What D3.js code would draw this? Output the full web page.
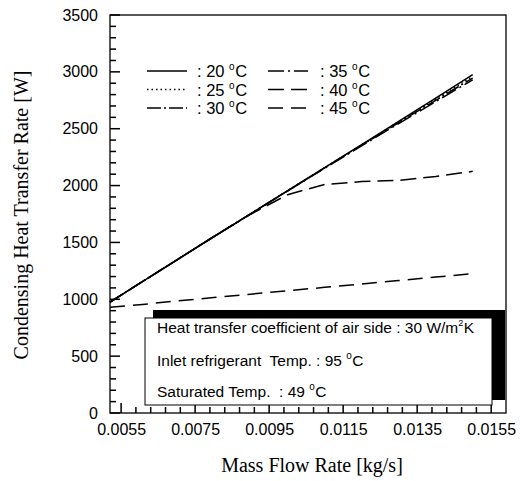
<!DOCTYPE html>
<html><head><meta charset="utf-8">
<script src="https://cdn.jsdelivr.net/npm/d3@7"></script>
<style>body{margin:0;background:#fff} text{white-space:pre}</style>
</head><body>
<svg id="c" width="520" height="481"></svg>
<script>
const massFlow = [0.0052, 0.0060, 0.0070, 0.0080, 0.0090, 0.0100, 0.0110, 0.0120, 0.0130, 0.0140, 0.0150];
const t20 = [975, 1140, 1345, 1550, 1752, 1955, 2158, 2360, 2565, 2770, 2975];
const t25 = [975, 1140, 1345, 1550, 1752, 1955, 2157, 2358, 2560, 2760, 2960];
const t30 = [975, 1140, 1345, 1550, 1752, 1954, 2155, 2355, 2553, 2750, 2945];
const t35 = [975, 1140, 1345, 1550, 1751, 1952, 2152, 2350, 2545, 2738, 2930];
const t40 = [975, 1140, 1345, 1550, 1748, 1920, 2010, 2035, 2045, 2080, 2125];
const t45 = [930, 952, 985, 1015, 1045, 1075, 1105, 1135, 1165, 1195, 1225];
const seriesNames = ["20", "25", "30", "35", "40", "45"];
const xTickLabels = [0.0055, 0.0075, 0.0095, 0.0115, 0.0135, 0.0155];
const yTickLabels = [0, 500, 1000, 1500, 2000, 2500, 3000, 3500];
const infoLines = [
  ["Heat transfer coefficient of air side : 30 W/m", "2", "K"],
  ["Inlet refrigerant  Temp. : 95 ", "o", "C"],
  ["Saturated Temp.  : 49 ", "o", "C"]
];

const svg = d3.select("#c");
const L = 110, R = 506, T = 15, B = 413;
const x = d3.scaleLinear().domain([0.0052, 0.01590]).range([L, R]);
const y = d3.scaleLinear().domain([0, 3500]).range([B, T]);

const styles = {
  "20": {dash: null},
  "25": {dash: "1.5,3"},
  "30": {dash: "14,3,2,3"},
  "35": {dash: "16,4,2,4"},
  "40": {dash: "16,7"},
  "45": {dash: "15,8"}
};
const data = [t20, t25, t30, t35, t40, t45];

// frame
svg.append("rect").attr("x", L).attr("y", T).attr("width", R - L).attr("height", B - T)
  .attr("fill", "none").attr("stroke", "#000").attr("stroke-width", 1.3);

// inside ticks drawn from scales, as small filled rects
const yMinor = d3.range(0, 3501, 100);
const xMinor = d3.range(0, 27).map(i => 0.0051 + i * 0.0004).filter(v => v >= 0.0052 && v <= 0.0159);
svg.append("g").selectAll("rect").data(yMinor).join("rect")
  .attr("x", L).attr("y", d => y(d) - 0.75)
  .attr("width", d => d % 500 === 0 ? 10 : 6).attr("height", 1.5).attr("fill", "#000");
svg.append("g").selectAll("rect").data(xMinor).join("rect")
  .attr("x", d => x(d) - 0.75)
  .attr("y", d => B - (xTickLabels.some(v => Math.abs(v - d) < 1e-7) ? 10 : 6))
  .attr("width", 1.5)
  .attr("height", d => xTickLabels.some(v => Math.abs(v - d) < 1e-7) ? 10 : 6).attr("fill", "#000");

// tick labels via axes
const gyl = svg.append("g").attr("transform", `translate(${L},0)`);
gyl.call(d3.axisLeft(y).tickValues(yTickLabels).tickSize(0).tickPadding(12).tickFormat(d3.format("d")));
gyl.select(".domain").remove();
gyl.selectAll("text").attr("font-family", "Liberation Sans, Arial, sans-serif").attr("font-size", 16).attr("fill", "#000");
const gxl = svg.append("g").attr("transform", `translate(0,${B})`);
gxl.call(d3.axisBottom(x).tickValues(xTickLabels).tickSize(0).tickPadding(11).tickFormat(d3.format(".4f")));
gxl.select(".domain").remove();
gxl.selectAll("text").attr("font-family", "Liberation Sans, Arial, sans-serif").attr("font-size", 16).attr("fill", "#000");

// lines
const line = d3.line().x((d, i) => x(massFlow[i])).y(d => y(d));
data.forEach((s, k) => {
  const st = styles[seriesNames[k]];
  svg.append("path").attr("d", line(s)).attr("fill", "none").attr("stroke", "#000")
    .attr("stroke-width", 1.5).attr("stroke-dasharray", st.dash);
});

const ff = "Liberation Sans, Arial, sans-serif";
function supText(x0, y0, parts, size, supSize, rise) {
  const a = svg.append("text").attr("x", x0).attr("y", y0).attr("font-family", ff)
    .attr("font-size", size).attr("fill", "#000").text(parts[0]);
  const w1 = a.node().getComputedTextLength();
  const b = svg.append("text").attr("x", x0 + w1).attr("y", y0 - rise).attr("font-family", ff)
    .attr("font-size", supSize).attr("fill", "#000").text(parts[1]);
  const w2 = b.node().getComputedTextLength();
  svg.append("text").attr("x", x0 + w1 + w2 + 0.5).attr("y", y0).attr("font-family", ff)
    .attr("font-size", size).attr("fill", "#000").text(parts[2]);
}

// legend
const legPos = [[147, 71], [147, 89.5], [147, 108], [268, 71], [268, 89.5], [268, 108]];
seriesNames.forEach((n, k) => {
  const [lx, ly] = legPos[k];
  svg.append("line").attr("x1", lx).attr("x2", lx + 40).attr("y1", ly).attr("y2", ly)
    .attr("stroke", "#000").attr("stroke-width", 1.4).attr("stroke-dasharray", styles[n].dash);
  supText(lx + (k < 3 ? 50 : 52), ly + 6, [": " + n + " ", "o", "C"], 16.5, 10, 7);
});

// info box
svg.append("rect").attr("x", 153).attr("y", 310).attr("width", 352).attr("height", 90).attr("fill", "#000");
svg.append("rect").attr("x", 145).attr("y", 318).attr("width", 347).attr("height", 87).attr("fill", "#fff")
  .attr("stroke", "#000").attr("stroke-width", 1);
[333, 366, 397].forEach((yy, i) => {
  supText(157, yy, infoLines[i], 15.5, i === 0 ? 9 : 10, 7);
});

// axis titles
svg.append("text").attr("x", 312).attr("y", 472).attr("text-anchor", "middle")
  .attr("font-family", "Liberation Serif, DejaVu Serif, serif").attr("font-size", 20).text("Mass Flow Rate [kg/s]");
svg.append("text").attr("transform", "translate(28,215) rotate(-90)").attr("text-anchor", "middle")
  .attr("font-family", "Liberation Serif, DejaVu Serif, serif").attr("font-size", 20).text("Condensing Heat Transfer Rate [W]");
</script>
</body></html>
